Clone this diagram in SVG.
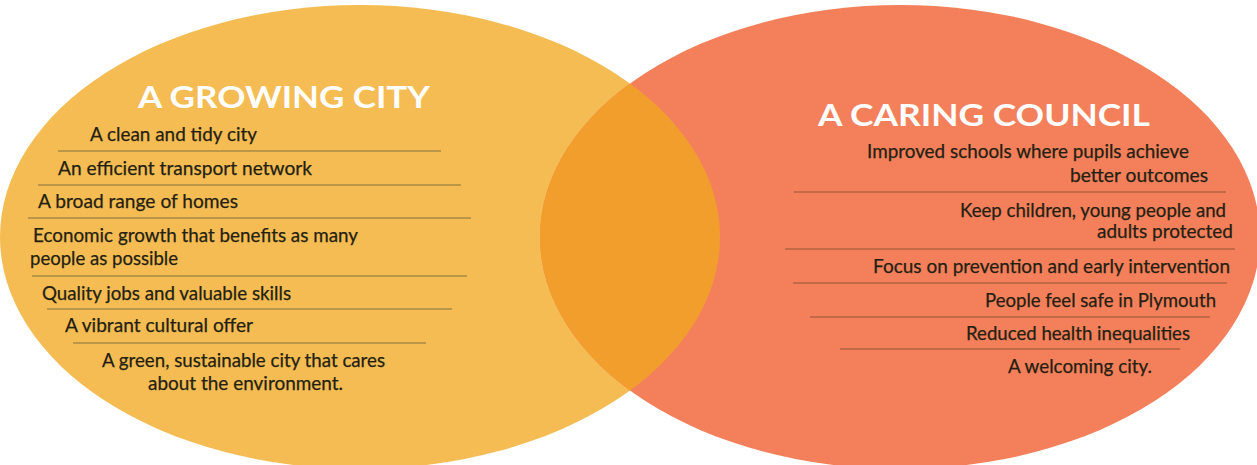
<svg xmlns="http://www.w3.org/2000/svg" width="1257" height="465" viewBox="0 0 1257 465">
  <style>
    .title { font-family: Lato, "Open Sans", "Liberation Sans", sans-serif; font-weight: 700; font-size: 30px; fill: #ffffff; }
    .item { font-family: Lato, "Open Sans", "Liberation Sans", sans-serif; font-size: 19px; fill: #241f12; stroke: #241f12; stroke-width: 0.25; }
    .rule-l { stroke: #a88a45; stroke-width: 1.4; }
    .rule-r { stroke: #b4623f; stroke-width: 1.4; }
  </style>
  <defs>
    <clipPath id="leftClip">
      <ellipse cx="360" cy="237" rx="360" ry="232"/>
    </clipPath>
  </defs>
  <rect width="1257" height="465" fill="#ffffff"/>

  <!-- circles -->
  <g id="growing-city">
    <ellipse cx="360" cy="237" rx="360" ry="232" fill="#f4bc52"/>
  </g>
  <g id="caring-council">
    <ellipse cx="900" cy="237" rx="360" ry="232" fill="#f4805b"/>
  </g>
  <g id="overlap">
    <ellipse cx="900" cy="237" rx="360" ry="232" fill="#f29e2d" clip-path="url(#leftClip)"/>
  </g>

  <!-- left list -->
  <g id="growing-city-text">
    <text class="title" x="138" y="108" textLength="292" lengthAdjust="spacingAndGlyphs">A GROWING CITY</text>
    <text class="item" x="90" y="141" textLength="167" lengthAdjust="spacingAndGlyphs">A clean and tidy city</text>
    <line class="rule-l" x1="58" y1="151" x2="441" y2="151"/>
    <text class="item" x="58" y="175" textLength="254" lengthAdjust="spacingAndGlyphs">An efficient transport network</text>
    <line class="rule-l" x1="38" y1="185" x2="461" y2="185"/>
    <text class="item" x="38" y="208" textLength="200" lengthAdjust="spacingAndGlyphs">A broad range of homes</text>
    <line class="rule-l" x1="28" y1="218" x2="471" y2="218"/>
    <text class="item" x="33" y="242" textLength="325" lengthAdjust="spacingAndGlyphs">Economic growth that benefits as many</text>
    <text class="item" x="30" y="265" textLength="148" lengthAdjust="spacingAndGlyphs">people as possible</text>
    <line class="rule-l" x1="32" y1="276" x2="467" y2="276"/>
    <text class="item" x="42" y="300" textLength="249" lengthAdjust="spacingAndGlyphs">Quality jobs and valuable skills</text>
    <line class="rule-l" x1="47" y1="309" x2="452" y2="309"/>
    <text class="item" x="65" y="332" textLength="188" lengthAdjust="spacingAndGlyphs">A vibrant cultural offer</text>
    <line class="rule-l" x1="73" y1="343" x2="426" y2="343"/>
    <text class="item" x="102" y="367" textLength="283" lengthAdjust="spacingAndGlyphs">A green, sustainable city that cares</text>
    <text class="item" x="148" y="390" textLength="195" lengthAdjust="spacingAndGlyphs">about the environment.</text>
  </g>

  <!-- right list -->
  <g id="caring-council-text">
    <text class="title" x="818" y="126" textLength="332" lengthAdjust="spacingAndGlyphs">A CARING COUNCIL</text>
    <text class="item" x="867" y="158" textLength="322" lengthAdjust="spacingAndGlyphs">Improved schools where pupils achieve</text>
    <text class="item" x="1070" y="182" textLength="138" lengthAdjust="spacingAndGlyphs">better outcomes</text>
    <line class="rule-r" x1="794" y1="192" x2="1226" y2="192"/>
    <text class="item" x="960" y="217" textLength="266" lengthAdjust="spacingAndGlyphs">Keep children, young people and</text>
    <text class="item" x="1097" y="238" textLength="136" lengthAdjust="spacingAndGlyphs">adults protected</text>
    <line class="rule-r" x1="785" y1="249" x2="1235" y2="249"/>
    <text class="item" x="873" y="273" textLength="357" lengthAdjust="spacingAndGlyphs">Focus on prevention and early intervention</text>
    <line class="rule-r" x1="793" y1="283" x2="1227" y2="283"/>
    <text class="item" x="985" y="307" textLength="231" lengthAdjust="spacingAndGlyphs">People feel safe in Plymouth</text>
    <line class="rule-r" x1="810" y1="317" x2="1210" y2="317"/>
    <text class="item" x="966" y="340" textLength="224" lengthAdjust="spacingAndGlyphs">Reduced health inequalities</text>
    <line class="rule-r" x1="840" y1="349" x2="1180" y2="349"/>
    <text class="item" x="1008" y="373" textLength="144" lengthAdjust="spacingAndGlyphs">A welcoming city.</text>
  </g>
</svg>
